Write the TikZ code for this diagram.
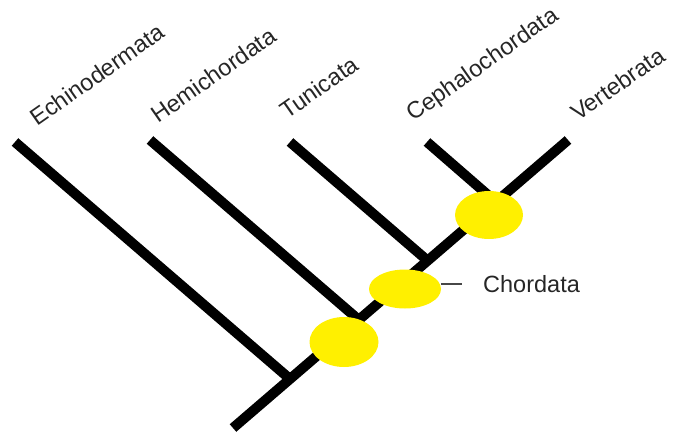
\documentclass[tikz,border=0pt]{standalone}
\usepackage{fontspec}
\setmainfont{Liberation Sans}
\usepackage{xcolor}
\definecolor{cladeInk}{HTML}{000000}
\definecolor{labelInk}{HTML}{262626}
\definecolor{blobYellow}{HTML}{FFF000}
\usepackage{tikz}
\usetikzlibrary{shapes,positioning,calc}
\tikzset{%
  cladeLine/.style={%
    line width=10pt,
    color=cladeInk
  },
  synapoBlob/.style={%
    ellipse,
    fill=blobYellow,
    inner sep=0pt
  },
  taxonLabel/.style={%
    rotate=35,
    anchor=base west,
    inner sep=0pt,
    text=labelInk,
    font=\fontsize{23.5}{28}\selectfont
  },
  tagLine/.style={%
    line width=2pt,
    color=labelInk!85
  }
}

\begin{document}
\begin{tikzpicture}[x=1pt,y=-1pt]
            \useasboundingbox (0,0) rectangle (673,434);

            % tips and joins of the tree
            \coordinate (root) at (233,428);
            \coordinate (vertTip) at (568,140);
            \coordinate (echTip) at (15,142);
            \coordinate (hemiTip) at (150,140);
            \coordinate (tuniTip) at (290,142);
            \coordinate (cephTip) at (427,142);
            \coordinate (echJoin) at (290,379);
            \coordinate (hemiJoin) at (359,320);
            \coordinate (tuniJoin) at (428,261);
            \coordinate (cephJoin) at (496,202);

            \draw[cladeLine] (root) -- (vertTip);
            \draw[cladeLine] (echTip) -- (echJoin);
            \draw[cladeLine] (hemiTip) -- (hemiJoin);
            \draw[cladeLine] (tuniTip) -- (tuniJoin);
            \draw[cladeLine] (cephTip) -- (cephJoin);

            \node[synapoBlob, minimum width=69pt, minimum height=50pt] (blobLow) at (344,342) {};
            \node[synapoBlob, minimum width=72pt, minimum height=39pt] (blobMid) at (405,289) {};
            \node[synapoBlob, minimum width=68pt, minimum height=48pt] (blobTop) at (489,215) {};

            \node[taxonLabel] (echLbl) at (37,127) {Echinodermata};
            \node[taxonLabel] (hemiLbl) at (158,124) {Hemichordata};
            \node[taxonLabel] (tuniLbl) at (287,120) {Tunicata};
            \node[taxonLabel] (cephLbl) at (413,122) {Cephalochordata};
            \node[taxonLabel] (vertLbl) at (578,122) {Vertebrata};

            \node[taxonLabel, rotate=-35] (chordLbl) at (483,292) {Chordata};
            \draw[tagLine, shorten >=21pt] (blobMid.east |- chordLbl.west) -- (chordLbl.west);
        \end{tikzpicture}
\end{document}
